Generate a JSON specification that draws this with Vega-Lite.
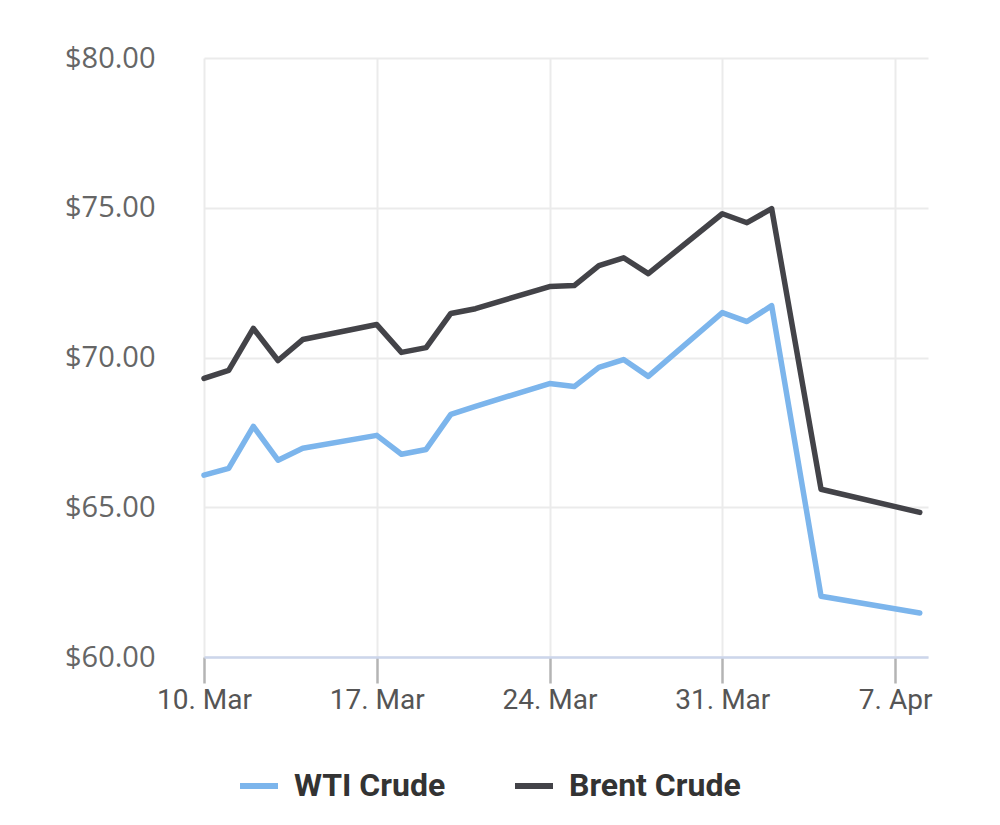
{
  "$schema": "https://vega.github.io/schema/vega-lite/v6.json",
  "width": 724,
  "height": 599,
  "autosize": {"type": "none"},
  "padding": {"left": 204, "top": 58, "right": 72, "bottom": 168},
  "background": "#ffffff",
  "config": {"view": {"stroke": null}},
  "data": {
    "values": [
      {"date": "2025-03-10", "series": "WTI Crude", "price": 66.07},
      {"date": "2025-03-11", "series": "WTI Crude", "price": 66.3},
      {"date": "2025-03-12", "series": "WTI Crude", "price": 67.7},
      {"date": "2025-03-13", "series": "WTI Crude", "price": 66.57},
      {"date": "2025-03-14", "series": "WTI Crude", "price": 66.97},
      {"date": "2025-03-17", "series": "WTI Crude", "price": 67.4},
      {"date": "2025-03-18", "series": "WTI Crude", "price": 66.77},
      {"date": "2025-03-19", "series": "WTI Crude", "price": 66.93},
      {"date": "2025-03-20", "series": "WTI Crude", "price": 68.1},
      {"date": "2025-03-21", "series": "WTI Crude", "price": 68.37},
      {"date": "2025-03-24", "series": "WTI Crude", "price": 69.13},
      {"date": "2025-03-25", "series": "WTI Crude", "price": 69.03},
      {"date": "2025-03-26", "series": "WTI Crude", "price": 69.67},
      {"date": "2025-03-27", "series": "WTI Crude", "price": 69.93},
      {"date": "2025-03-28", "series": "WTI Crude", "price": 69.37},
      {"date": "2025-03-31", "series": "WTI Crude", "price": 71.5},
      {"date": "2025-04-01", "series": "WTI Crude", "price": 71.2},
      {"date": "2025-04-02", "series": "WTI Crude", "price": 71.73},
      {"date": "2025-04-04", "series": "WTI Crude", "price": 62.03},
      {"date": "2025-04-08", "series": "WTI Crude", "price": 61.47},
      {"date": "2025-03-10", "series": "Brent Crude", "price": 69.3},
      {"date": "2025-03-11", "series": "Brent Crude", "price": 69.57},
      {"date": "2025-03-12", "series": "Brent Crude", "price": 70.97},
      {"date": "2025-03-13", "series": "Brent Crude", "price": 69.9},
      {"date": "2025-03-14", "series": "Brent Crude", "price": 70.6},
      {"date": "2025-03-17", "series": "Brent Crude", "price": 71.1},
      {"date": "2025-03-18", "series": "Brent Crude", "price": 70.17},
      {"date": "2025-03-19", "series": "Brent Crude", "price": 70.33},
      {"date": "2025-03-20", "series": "Brent Crude", "price": 71.47},
      {"date": "2025-03-21", "series": "Brent Crude", "price": 71.63},
      {"date": "2025-03-24", "series": "Brent Crude", "price": 72.37},
      {"date": "2025-03-25", "series": "Brent Crude", "price": 72.4},
      {"date": "2025-03-26", "series": "Brent Crude", "price": 73.07},
      {"date": "2025-03-27", "series": "Brent Crude", "price": 73.33},
      {"date": "2025-03-28", "series": "Brent Crude", "price": 72.8},
      {"date": "2025-03-31", "series": "Brent Crude", "price": 74.8},
      {"date": "2025-04-01", "series": "Brent Crude", "price": 74.5},
      {"date": "2025-04-02", "series": "Brent Crude", "price": 74.97},
      {"date": "2025-04-04", "series": "Brent Crude", "price": 65.6},
      {"date": "2025-04-08", "series": "Brent Crude", "price": 64.83}
    ]
  },
  "mark": {"type": "line", "strokeWidth": 5.5, "strokeJoin": "round", "strokeCap": "round"},
  "encoding": {
    "x": {
      "field": "date",
      "type": "temporal",
      "scale": {
        "type": "utc",
        "domain": [
          {"year": 2025, "month": 3, "date": 10, "utc": true},
          {"year": 2025, "month": 4, "date": 8, "hours": 8, "utc": true}
        ]
      },
      "axis": {
        "title": null,
        "values": [
          {"year": 2025, "month": 3, "date": 10, "utc": true},
          {"year": 2025, "month": 3, "date": 17, "utc": true},
          {"year": 2025, "month": 3, "date": 24, "utc": true},
          {"year": 2025, "month": 3, "date": 31, "utc": true},
          {"year": 2025, "month": 4, "date": 7, "utc": true}
        ],
        "format": "%-d. %b",
        "labelFont": "Roboto",
        "labelFontSize": 28,
        "labelColor": "#555555",
        "labelPadding": 3,
        "labelFlush": false,
        "labelOverlap": false,
        "domainColor": "#ccd6eb",
        "domainWidth": 2.5,
        "ticks": true,
        "tickColor": "#b4b4b4",
        "tickOpacity": 1,
        "tickWidth": 2.5,
        "tickSize": 26,
        "grid": true,
        "gridColor": "#ebebeb",
        "gridWidth": 2
      }
    },
    "y": {
      "field": "price",
      "type": "quantitative",
      "scale": {"domain": [60, 80], "nice": false, "zero": false},
      "axis": {
        "title": null,
        "values": [60, 65, 70, 75, 80],
        "format": "$.2f",
        "labelFont": "Open Sans",
        "labelFontSize": 29,
        "labelColor": "#666666",
        "labelPadding": 49,
        "domain": false,
        "ticks": false,
        "grid": true,
        "gridColor": "#ebebeb",
        "gridWidth": 2
      }
    },
    "color": {
      "field": "series",
      "type": "nominal",
      "scale": {"domain": ["WTI Crude", "Brent Crude"], "range": ["#7cb5ec", "#434348"]},
      "legend": {
        "title": null,
        "orient": "none",
        "direction": "horizontal",
        "legendX": 33,
        "legendY": 706,
        "symbolType": "stroke",
        "symbolSize": 1444,
        "symbolStrokeWidth": 6,
        "labelFont": "Roboto",
        "labelFontSize": 32,
        "labelFontWeight": "bold",
        "labelColor": "#333333",
        "labelOffset": 13,
        "columnPadding": 57,
        "labelLimit": 400
      }
    }
  }
}
